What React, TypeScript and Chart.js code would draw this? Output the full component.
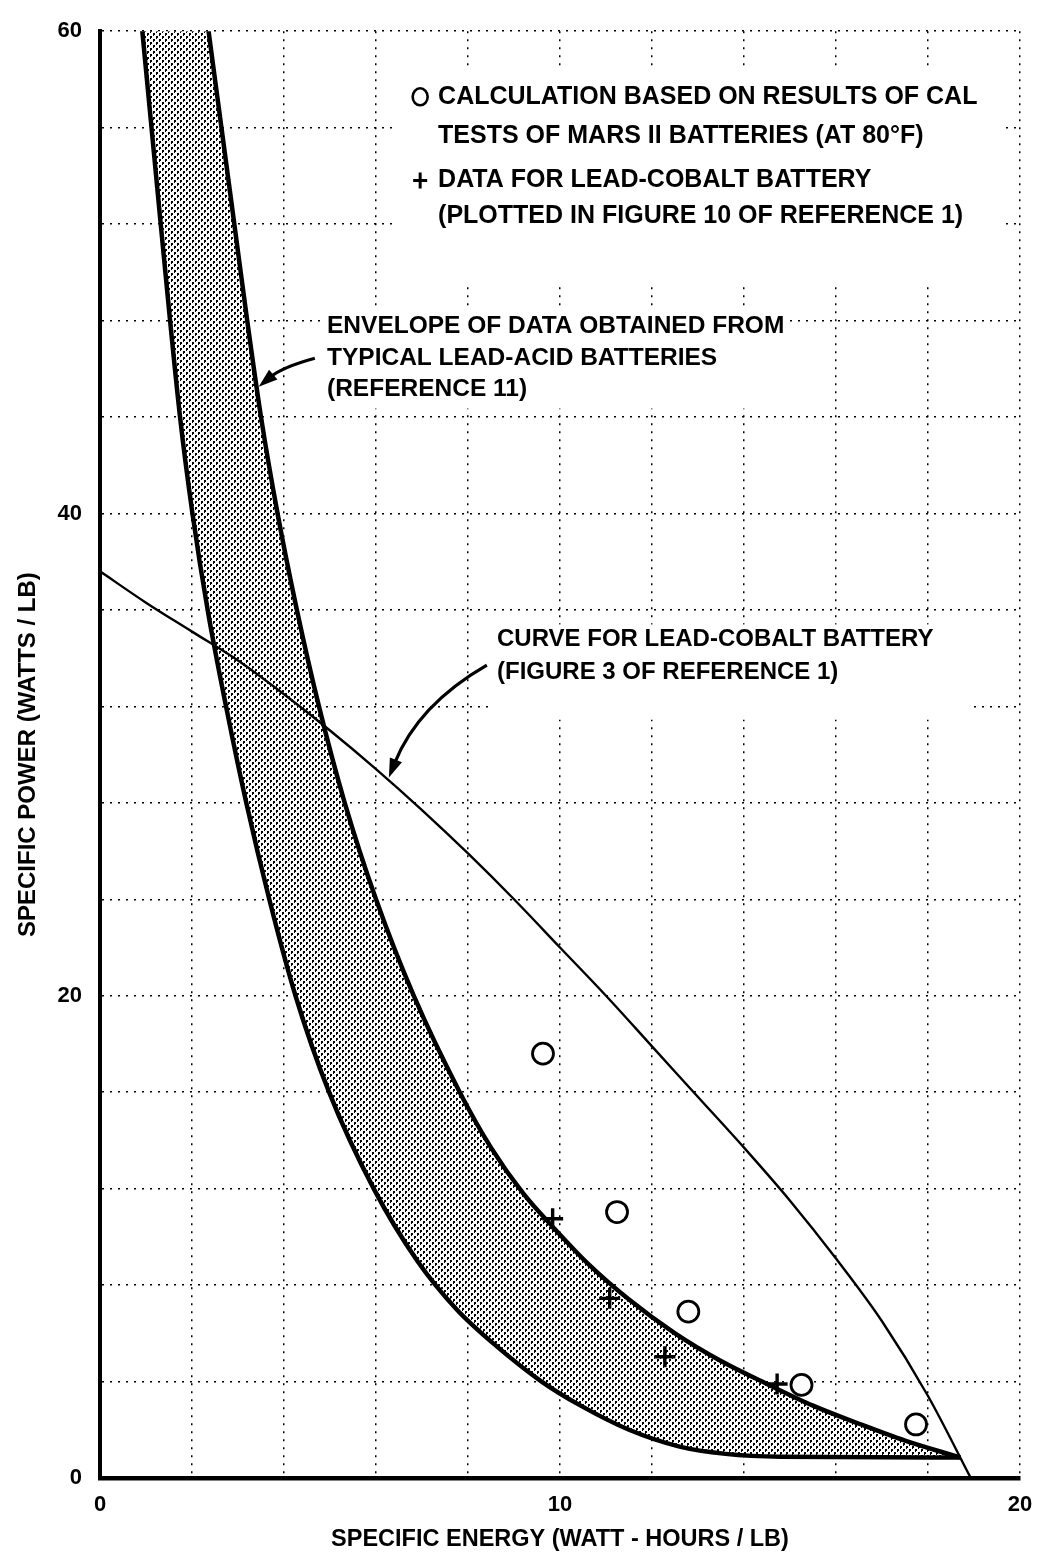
import React, { useEffect, useRef } from "react";
import { Chart, registerables } from "chart.js";

Chart.register(...registerables);

// ---------------- data ----------------
// Thin line: curve for lead-cobalt battery (Figure 3 of Reference 1)
const leadCobaltCurveX = [0, 1, 2, 3, 4, 5, 6, 7, 8, 9, 10, 11, 12, 13, 14, 15, 16, 17, 18, 18.93];
const leadCobaltCurveY = [37.6, 36.3, 35.1, 33.9, 32.5, 31.0, 29.4, 27.7, 25.9, 24.0, 22.0, 20.0, 17.9, 15.8, 13.7, 11.5, 9.1, 6.5, 3.4, 0];

// Envelope of data from typical lead-acid batteries (upper/right boundary, runs above the top edge)
const envelopeUpperX = [0.3, 2.36, 2.64, 2.92, 3.2, 3.5, 3.86, 4.28, 4.76, 5.32, 6.0, 6.82, 7.82, 8.5, 9.2, 9.85, 10.6, 11.5, 12.5, 13.5, 14.5, 15.5, 16.5, 17.5, 18.7];
const envelopeUpperY = [90, 60, 56, 52, 48, 44, 40, 36, 32, 28, 24, 20, 16, 13.7, 11.8, 10.4, 8.9, 7.4, 6.0, 4.85, 3.9, 3.0, 2.25, 1.55, 0.85];

// Envelope lower/left boundary
const envelopeLowerX = [0.64, 0.92, 1.32, 1.74, 2.01, 2.34, 2.74, 3.18, 3.68, 4.25, 4.98, 5.95, 6.9, 7.75, 8.6, 9.6, 10.45, 11.5, 12.6, 13.6, 14.8, 18.7];
const envelopeLowerY = [66, 60, 52, 44, 40, 36, 32, 28, 24, 20, 16, 12, 9, 7, 5.5, 4, 3, 2, 1.3, 1.0, 0.88, 0.85];

// Circles: calculation based on results of CAL tests of MARS II batteries
const marsCalcX = [9.63, 11.24, 12.79, 15.25, 17.74];
const marsCalcY = [17.6, 11.03, 6.9, 3.86, 2.22];

// Crosses: data for lead-cobalt battery
const leadCobaltDataX = [9.84, 11.08, 12.28, 14.72];
const leadCobaltDataY = [10.75, 7.45, 5.03, 3.9];

// Tick labels shown
const xTickLabels = ["0", "10", "20"];
const yTickLabels = ["0", "20", "40", "60"];

// Texts
const xAxisTitle = "SPECIFIC ENERGY (WATT - HOURS / LB)";
const yAxisTitle = "SPECIFIC POWER (WATTS / LB)";
const legendCircleText = ["CALCULATION BASED ON RESULTS OF CAL", "TESTS OF MARS II BATTERIES (AT 80°F)"];
const legendCrossText = ["DATA FOR LEAD-COBALT BATTERY", "(PLOTTED IN FIGURE 10 OF REFERENCE 1)"];
const envelopeText = ["ENVELOPE OF DATA OBTAINED FROM", "TYPICAL LEAD-ACID BATTERIES", "(REFERENCE 11)"];
const curveText = ["CURVE FOR LEAD-COBALT BATTERY", "(FIGURE 3 OF REFERENCE 1)"];

// ---------------- helpers ----------------
const FONT_FAMILY = '"Liberation Sans", Arial, Helvetica, sans-serif';

function pts(xs: number[], ys: number[]) {
  return xs.map((x, i) => ({ x, y: ys[i] }));
}

function makeStipple(): CanvasPattern | string {
  const tile = document.createElement("canvas");
  tile.width = 6;
  tile.height = 6;
  const t = tile.getContext("2d");
  if (!t) return "#bbb";
  t.fillStyle = "#fff";
  t.fillRect(0, 0, 6, 6);
  t.fillStyle = "#000";
  t.fillRect(0, 0, 2, 2);
  t.fillRect(3, 3, 2, 2);
  t.fillRect(0, 2, 1, 1);
  t.fillRect(3, 5, 1, 1);
  const p = t.createPattern(tile, "repeat");
  return p || "#bbb";
}

function drawArrow(
  ctx: CanvasRenderingContext2D,
  x0: number, y0: number, cx: number, cy: number, x1: number, y1: number
) {
  const ang = Math.atan2(y1 - cy, x1 - cx);
  const len = 19;
  const w = 6.5;
  const bx = x1 - len * 0.8 * Math.cos(ang);
  const by = y1 - len * 0.8 * Math.sin(ang);
  ctx.beginPath();
  ctx.moveTo(x0, y0);
  ctx.quadraticCurveTo(cx, cy, bx, by);
  ctx.lineWidth = 3.2;
  ctx.stroke();
  ctx.beginPath();
  ctx.moveTo(x1, y1);
  ctx.lineTo(x1 - len * Math.cos(ang) + w * Math.sin(ang), y1 - len * Math.sin(ang) - w * Math.cos(ang));
  ctx.lineTo(x1 - len * Math.cos(ang) - w * Math.sin(ang), y1 - len * Math.sin(ang) + w * Math.cos(ang));
  ctx.closePath();
  ctx.fill();
}

const annotationPlugin = {
  id: "annotations",
  beforeDatasetsDraw(chart: any) {
    const { ctx } = chart;
    const sx = chart.scales.x;
    const sy = chart.scales.y;
    // white areas behind the text blocks (grid interrupted there)
    const masks = [
      { x0: 6.4, x1: 19.6, y0: 49.6, y1: 58.4 },
      { x0: 4.8, x1: 15.0, y0: 44.35, y1: 48.6 },
      { x0: 8.5, x1: 18.9, y0: 31.45, y1: 35.4 },
    ];
    ctx.save();
    ctx.fillStyle = "#fff";
    for (const m of masks) {
      const l = sx.getPixelForValue(m.x0);
      const r = sx.getPixelForValue(m.x1);
      const t = sy.getPixelForValue(m.y1);
      const b = sy.getPixelForValue(m.y0);
      ctx.fillRect(l, t, r - l, b - t);
    }
    ctx.restore();
  },
  afterDatasetsDraw(chart: any) {
    const { ctx } = chart;
    const sx = chart.scales.x;
    const sy = chart.scales.y;
    const X = (v: number) => sx.getPixelForValue(v);
    const Y = (v: number) => sy.getPixelForValue(v);
    ctx.save();
    ctx.fillStyle = "#000";
    ctx.strokeStyle = "#000";
    ctx.textBaseline = "middle";
    ctx.textAlign = "left";

    // legend block
    const symX = X(6.96);
    ctx.lineWidth = 2.6;
    ctx.beginPath();
    ctx.ellipse(symX, Y(57.28), 7.5, 8.5, 0, 0, Math.PI * 2);
    ctx.stroke();
    ctx.lineWidth = 3;
    ctx.beginPath();
    ctx.moveTo(symX - 7, Y(53.81));
    ctx.lineTo(symX + 7, Y(53.81));
    ctx.moveTo(symX, Y(53.81) - 8);
    ctx.lineTo(symX, Y(53.81) + 8);
    ctx.stroke();
    ctx.font = `bold 25px ${FONT_FAMILY}`;
    ctx.fillText(legendCircleText[0], X(7.35), Y(57.28));
    ctx.fillText(legendCircleText[1], X(7.35), Y(55.67));
    ctx.fillText(legendCrossText[0], X(7.35), Y(53.81));
    ctx.fillText(legendCrossText[1], X(7.35), Y(52.33));

    // envelope annotation
    ctx.font = `bold 24.5px ${FONT_FAMILY}`;
    const envY = [47.76, 46.44, 45.16];
    envelopeText.forEach((t, i) => ctx.fillText(t, X(4.935), Y(envY[i])));
    drawArrow(ctx, X(4.67), Y(46.44), X(3.96), Y(46.07), X(3.45), Y(45.25));

    // lead-cobalt curve annotation
    ctx.font = `bold 24px ${FONT_FAMILY}`;
    const curY = [34.78, 33.42];
    curveText.forEach((t, i) => ctx.fillText(t, X(8.63), Y(curY[i])));
    drawArrow(ctx, X(8.41), Y(33.71), X(6.91), Y(32.06), X(6.28), Y(29.05));

    ctx.restore();
  },
};

export default function App() {
  const ref = useRef<HTMLCanvasElement>(null);

  useEffect(() => {
    const canvas = ref.current;
    if (!canvas) return;
    const stipple = makeStipple();
    const tickFont = { family: FONT_FAMILY, size: 22, weight: "bold" as const };
    const xTitleFont = { family: FONT_FAMILY, size: 23.5, weight: "bold" as const };
    const yTitleFont = { family: FONT_FAMILY, size: 24, weight: "bold" as const };

    const chart = new Chart(canvas, {
      type: "scatter",
      data: {
        datasets: [
          {
            label: "Envelope upper",
            data: pts(envelopeUpperX, envelopeUpperY),
            showLine: true,
            borderColor: "#000",
            borderWidth: 4.5,
            pointRadius: 0,
            pointHoverRadius: 0,
            cubicInterpolationMode: "monotone",
            fill: false,
            clip: 0,
            order: 3,
          },
          {
            label: "Envelope lower",
            data: pts(envelopeLowerX, envelopeLowerY),
            showLine: true,
            borderColor: "#000",
            borderWidth: 4.5,
            pointRadius: 0,
            pointHoverRadius: 0,
            cubicInterpolationMode: "monotone",
            fill: "-1",
            backgroundColor: stipple as any,
            clip: 0,
            order: 4,
          },
          {
            label: "Lead-cobalt curve",
            data: pts(leadCobaltCurveX, leadCobaltCurveY),
            showLine: true,
            borderColor: "#000",
            borderWidth: 2.4,
            pointRadius: 0,
            pointHoverRadius: 0,
            cubicInterpolationMode: "monotone",
            fill: false,
            clip: 0,
            order: 2,
          },
          {
            label: "MARS II calc",
            data: pts(marsCalcX, marsCalcY),
            showLine: false,
            pointStyle: "circle",
            pointRadius: 10.5,
            borderWidth: 2.8,
            borderColor: "#000",
            backgroundColor: "#fff",
            order: 1,
          },
          {
            label: "Lead-cobalt data",
            data: pts(leadCobaltDataX, leadCobaltDataY),
            showLine: false,
            pointStyle: "cross",
            pointRadius: 10.5,
            borderWidth: 3.4,
            borderColor: "#000",
            backgroundColor: "#000",
            order: 0,
          },
        ],
      },
      options: {
        animation: false,
        responsive: false,
        events: [],
        layout: { padding: { top: 22, right: 31, bottom: 0, left: 0 } },
        plugins: {
          legend: { display: false },
          tooltip: { enabled: false },
          title: { display: false },
        },
        scales: {
          x: {
            type: "linear",
            min: 0,
            max: 20,
            afterFit: (s: any) => {
              s.height = 81;
            },
            ticks: {
              stepSize: 2,
              autoSkip: false,
              maxRotation: 0,
              padding: 14,
              color: "#000",
              font: tickFont,
              callback: (v: any) => (xTickLabels.includes(String(v)) ? String(v) : ""),
            },
            grid: { color: "#000", lineWidth: 1.5, drawTicks: false },
            border: { display: true, color: "#000", width: 4.5, dash: [2, 6] },
            title: {
              display: true,
              text: xAxisTitle,
              color: "#000",
              font: xTitleFont,
              padding: { top: 0, bottom: 5 },
            },
          },
          y: {
            type: "linear",
            min: 0,
            max: 60,
            afterFit: (s: any) => {
              s.width = 100;
            },
            ticks: {
              stepSize: 4,
              autoSkip: false,
              padding: 18,
              color: "#000",
              font: tickFont,
              callback: (v: any) => (yTickLabels.includes(String(v)) ? String(v) : ""),
            },
            grid: { color: "#000", lineWidth: 1.5, drawTicks: false },
            border: { display: true, color: "#000", width: 4, dash: [2, 6] },
            title: {
              display: true,
              text: yAxisTitle,
              color: "#000",
              font: yTitleFont,
              padding: { top: 14, bottom: 0 },
            },
          },
        },
      },
      plugins: [annotationPlugin],
    });

    return () => chart.destroy();
  }, []);

  return (
    <div style={{ position: "absolute", left: 0, top: 0, width: 1051, height: 1559, background: "#fff" }}>
      <canvas ref={ref} width={1051} height={1559} style={{ display: "block", width: 1051, height: 1559 }} />
    </div>
  );
}
